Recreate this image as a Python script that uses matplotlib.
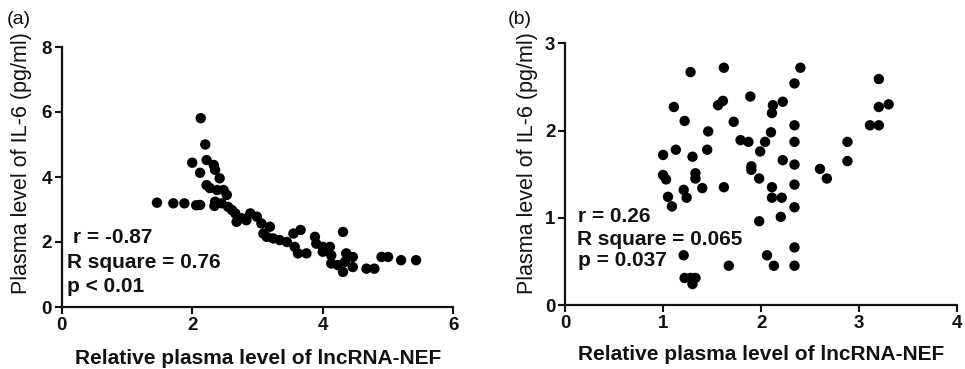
import matplotlib
matplotlib.use("Agg")
import matplotlib.pyplot as plt

plt.rcParams['font.family'] = ['Liberation Sans', 'DejaVu Sans']

# Panel (a) data
a_x = [1.46, 1.71, 1.88, 2.06, 2.12, 2.13, 2.20, 2.00, 2.12, 2.22, 2.33, 2.35, 2.42,
       2.22, 2.27, 2.38, 2.48, 2.53, 2.35, 2.34, 2.45, 2.55, 2.61, 2.66, 2.68, 2.76,
       2.89, 2.99, 2.83, 3.06, 3.19, 3.09, 3.14, 3.24, 3.34, 3.45, 3.55, 3.66, 3.57,
       3.62, 3.75, 3.88, 3.90, 4.00, 4.11, 4.00, 4.13, 4.31, 4.36, 4.46, 4.13, 4.23,
       4.31, 4.34, 4.46, 4.67, 4.79, 4.90, 5.00, 5.20, 5.43]
a_y = [3.21, 3.19, 3.19, 3.13, 3.14, 5.81, 5.00, 4.44, 4.13, 4.52, 4.37, 4.22, 3.96,
       3.75, 3.66, 3.60, 3.60, 3.45, 3.24, 3.11, 3.19, 3.08, 2.98, 2.88, 2.62, 2.73,
       2.88, 2.78, 2.67, 2.57, 2.47, 2.26, 2.16, 2.11, 2.06, 2.00, 2.26, 2.37, 1.85,
       1.65, 1.65, 2.16, 1.95, 1.85, 1.85, 1.70, 1.59, 2.31, 1.65, 1.54, 1.34, 1.29,
       1.08, 1.39, 1.23, 1.18, 1.18, 1.54, 1.54, 1.44, 1.44]

# Panel (b) data
b_x = [1.28, 1.62, 2.40, 2.34, 3.20, 1.11, 1.56, 1.61, 1.89, 2.12, 2.22, 2.11, 3.20,
       3.30, 1.22, 1.72, 2.34, 3.11, 3.20, 1.46, 2.10, 1.79, 1.87, 2.04, 2.34, 2.88,
       1.00, 1.13, 1.45, 1.30, 1.99, 2.22, 2.34, 2.88, 1.90, 1.90, 2.60, 2.67, 1.00,
       1.03, 1.33, 1.33, 1.98, 2.34, 1.40, 1.62, 1.21, 2.11, 1.05, 1.24, 2.11, 2.21,
       1.09, 2.34, 1.98, 2.20, 1.21, 2.06, 2.34, 1.67, 2.13, 2.34, 1.22, 1.28, 1.33,
       1.30]
b_y = [2.67, 2.72, 2.72, 2.54, 2.59, 2.27, 2.29, 2.34, 2.39, 2.29, 2.33, 2.20, 2.27,
       2.30, 2.11, 2.10, 2.06, 2.06, 2.06, 1.99, 1.98, 1.89, 1.87, 1.87, 1.87, 1.87,
       1.72, 1.78, 1.78, 1.70, 1.76, 1.66, 1.61, 1.65, 1.59, 1.55, 1.56, 1.45, 1.49,
       1.44, 1.51, 1.45, 1.45, 1.38, 1.34, 1.35, 1.32, 1.35, 1.24, 1.23, 1.23, 1.23,
       1.13, 1.12, 0.96, 1.01, 0.57, 0.57, 0.66, 0.45, 0.45, 0.45, 0.31, 0.31, 0.31,
       0.24]

x_label = "Relative plasma level of lncRNA-NEF"
y_label = "Plasma level of IL-6 (pg/ml)"
a_stats = ["r = -0.87", "R square = 0.76", "p < 0.01"]
b_stats = ["r = 0.26", "R square = 0.065", "p = 0.037"]
a_xticks = [0, 2, 4, 6]
a_yticks = [0, 2, 4, 6, 8]
b_xticks = [0, 1, 2, 3, 4]
b_yticks = [0, 1, 2, 3]

W, H = 965, 369
fig = plt.figure(figsize=(W / 100, H / 100), dpi=100)

def px(x, y):
    return x / W, 1 - y / H

ax1 = fig.add_axes([61.7 / W, 1 - 307 / H, 391.6 / W, 260 / H])
ax2 = fig.add_axes([565 / W, 1 - 305 / H, 392.3 / W, 261.7 / H])

for ax, xs, ys, xt, yt in [(ax1, a_x, a_y, a_xticks, a_yticks),
                           (ax2, b_x, b_y, b_xticks, b_yticks)]:
    ax.scatter(xs, ys, s=56, color='black', edgecolors='none', clip_on=False, zorder=3)
    ax.set_xlim(xt[0], xt[-1])
    ax.set_ylim(yt[0], yt[-1])
    ax.set_xticks(xt)
    ax.set_yticks(yt)
    for s in ['top', 'right']:
        ax.spines[s].set_visible(False)
    for s in ['left', 'bottom']:
        ax.spines[s].set_linewidth(1.6)
        ax.spines[s].set_color('#111111')
    ax.tick_params(direction='out', length=5, width=1.5, labelsize=13.5, pad=2,
                   colors='#111111')
    for lab in ax.get_xticklabels() + ax.get_yticklabels():
        lab.set_fontweight('bold')

# x labels
fig.text(*px(258, 358), x_label, ha='center', va='center', fontsize=15, fontweight='bold',
         color='#111111')
fig.text(*px(761, 355), x_label, ha='center', va='center', fontsize=15, fontweight='bold',
         color='#111111')
# y labels
fig.text(*px(22, 163), y_label, ha='center', va='center', rotation=90, fontsize=15.5,
         color='#111111')
fig.text(*px(528, 163), y_label, ha='center', va='center', rotation=90, fontsize=15.5,
         color='#111111')
# panel labels
fig.text(*px(7, 19), "(a)", ha='left', va='center', fontsize=14, color='#111111')
fig.text(*px(508, 20), "(b)", ha='left', va='center', fontsize=14, color='#111111')

# stats
for (x, y), t in zip([(72.7, 238), (67.3, 263), (67.3, 287)], a_stats):
    fig.text(*px(x, y), t, ha='left', va='center', fontsize=15, fontweight='bold',
             color='#111111')
for (x, y), t in zip([(578.3, 216), (577.3, 239.5), (578.3, 261)], b_stats):
    fig.text(*px(x, y), t, ha='left', va='center', fontsize=15, fontweight='bold',
             color='#111111')

fig.savefig("out.png", dpi=100, facecolor='white')
